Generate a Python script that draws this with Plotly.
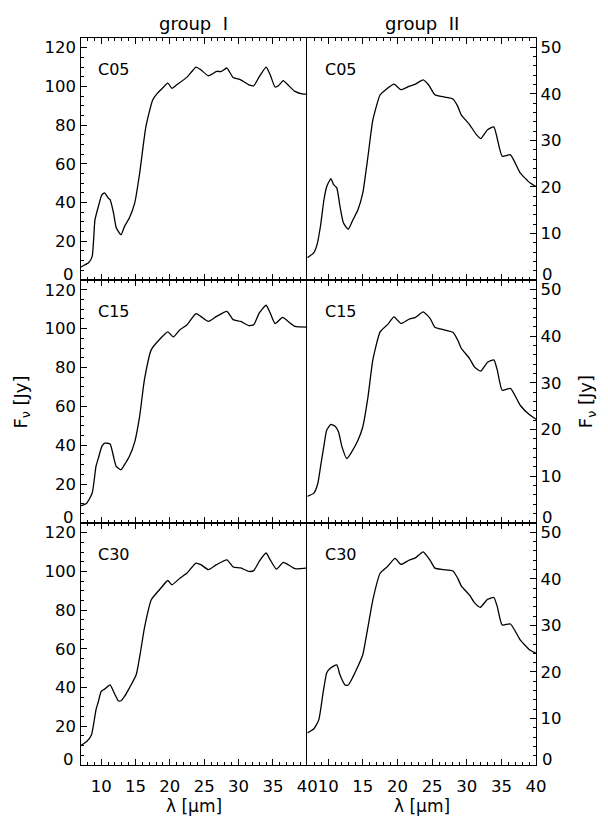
import plotly.graph_objects as go

# ---- spectra: wavelength [micron] and flux density [Jy] ----
# group I (left column)
lam_g1_c05 = [7.0, 8.2, 8.7, 9.1, 9.6, 10.1, 10.5, 11.0, 11.3, 11.8, 12.2, 12.9, 13.4, 14.1, 14.9,
              15.6, 16.5, 17.5, 18.2, 18.9, 19.7, 20.3, 21.0, 22.5, 23.2, 23.8, 24.5, 25.6, 26.8,
              27.5, 28.3, 29.2, 30.3, 31.5, 32.2, 33.0, 34.0, 34.6, 35.3, 35.8, 36.5, 37.2, 38.2,
              39.4, 40.0]
flux_g1_c05 = [6.6, 9.0, 12.2, 31.0, 38.0, 44.0, 45.0, 42.5, 41.5, 34.7, 27.0, 23.4, 27.7, 32.0, 40.0,
               55.0, 79.0, 93.0, 96.5, 99.0, 101.7, 99.0, 100.8, 104.8, 107.7, 110.0, 108.6, 105.5, 107.7,
               107.7, 109.5, 104.6, 103.4, 100.8, 100.3, 105.0, 110.0, 106.0, 99.7, 100.3, 103.0, 100.7, 97.4,
               96.0, 96.0]

lam_g1_c15 = [7.0, 7.9, 8.7, 9.25, 9.6, 10.1, 10.5, 11.3, 11.8, 12.2, 12.9, 13.4, 14.1, 14.9, 15.6,
              16.3, 17.3, 18.7, 19.7, 20.5, 21.5, 22.5, 23.8, 24.5, 25.6, 26.8, 28.3, 29.2, 30.3,
              31.5, 32.2, 33.0, 34.0, 34.6, 35.3, 36.4, 37.2, 38.2, 40.0]
flux_g1_c15 = [8.8, 10.2, 15.4, 29.1, 33.4, 39.4, 41.1, 40.6, 34.2, 29.1, 27.4, 30.0, 34.2, 41.9, 54.8,
               73.7, 89.2, 95.2, 98.3, 95.7, 99.5, 102.0, 107.7, 106.3, 103.7, 106.3, 108.9, 104.6, 103.7,
               101.5, 102.0, 108.0, 112.0, 108.0, 102.6, 105.8, 103.7, 101.1, 100.8]

lam_g1_c30 = [7.0, 7.9, 8.6, 9.25, 9.6, 10.0, 10.5, 11.3, 11.8, 12.5, 12.9, 13.4, 14.1, 15.1, 15.7,
              16.3, 17.3, 18.7, 19.7, 20.3, 21.5, 22.5, 23.8, 24.5, 25.6, 26.8, 28.3, 29.2, 30.3,
              31.5, 32.2, 33.0, 34.0, 34.6, 35.5, 36.5, 37.2, 38.2, 40.0]
flux_g1_c30 = [9.9, 12.1, 15.6, 28.5, 32.8, 38.0, 39.2, 41.4, 38.0, 33.2, 33.2, 35.4, 39.7, 46.6, 57.8,
               70.8, 85.4, 91.4, 95.3, 93.1, 96.6, 99.2, 104.3, 103.5, 100.9, 103.5, 106.0, 102.3, 101.8,
               100.0, 100.4, 105.2, 109.5, 106.0, 101.2, 104.7, 103.5, 101.4, 101.8]

# group II (right column)
lam_g2_c05 = [7.0, 7.95, 8.4, 8.9, 9.4, 9.8, 10.3, 10.4, 10.8, 11.25, 11.7, 12.2, 12.9, 13.6, 14.3,
              15.0, 15.75, 16.45, 17.5, 18.3, 19.5, 20.5, 21.65, 22.6, 23.7, 24.5, 25.4, 26.8, 28.0,
              28.7, 29.2, 30.4, 31.3, 32.0, 33.0, 33.9, 35.1, 36.3, 37.7, 39.1, 40.0]
flux_g2_c05 = [4.8, 5.9, 7.6, 11.6, 17.3, 20.1, 21.6, 21.8, 20.5, 19.8, 15.9, 12.3, 10.9, 13.0, 15.1,
               18.7, 26.6, 34.4, 39.8, 40.9, 42.1, 40.9, 41.6, 42.1, 43.0, 41.9, 39.8, 39.3, 38.9,
               37.3, 35.5, 33.4, 31.4, 30.4, 32.3, 32.9, 26.6, 26.9, 23.0, 20.9, 20.1]

lam_g2_c15 = [7.0, 7.95, 8.5, 8.9, 9.4, 9.8, 10.4, 11.0, 11.5, 12.0, 12.7, 13.4, 14.3, 15.0, 15.75,
              16.45, 17.5, 18.6, 19.5, 20.5, 21.65, 22.6, 23.7, 24.7, 25.4, 26.6, 28.0, 28.7, 29.2,
              30.4, 31.1, 32.0, 33.0, 33.9, 34.4, 35.1, 36.3, 37.7, 39.1, 40.0]
flux_g2_c15 = [5.7, 6.4, 8.4, 12.0, 16.6, 19.9, 21.1, 20.7, 19.5, 16.3, 13.8, 15.2, 17.7, 20.6, 27.0,
               34.9, 40.9, 42.5, 44.1, 42.7, 43.6, 44.0, 45.2, 43.8, 41.9, 41.4, 40.8, 39.1, 37.4,
               35.2, 33.4, 32.5, 34.4, 34.9, 32.7, 28.4, 28.8, 25.2, 23.1, 22.2]

lam_g2_c30 = [7.0, 7.95, 8.65, 9.3, 9.8, 10.3, 11.25, 11.7, 12.45, 12.9, 13.6, 14.3, 15.0, 15.75, 16.45,
              17.5, 18.6, 19.65, 20.5, 21.65, 22.6, 23.7, 24.7, 25.4, 26.6, 28.0, 28.7, 29.2, 30.4,
              31.1, 31.95, 33.0, 33.9, 34.4, 35.1, 36.3, 37.7, 39.1, 40.0]
flux_g2_c30 = [6.9, 7.8, 9.7, 15.8, 19.8, 20.8, 21.5, 19.4, 17.2, 17.2, 19.0, 21.2, 23.7, 29.7, 35.5,
               41.2, 42.7, 44.4, 43.1, 44.0, 44.5, 45.8, 44.0, 42.3, 42.0, 41.7, 40.1, 38.5, 36.5,
               34.9, 33.9, 35.6, 36.0, 34.0, 30.1, 30.3, 26.9, 24.7, 24.0]

model_names = ["C05", "C15", "C30"]
group_titles = ["group\u00a0\u00a0I", "group\u00a0\u00a0II"]
x_ticks = [10, 15, 20, 25, 30, 35, 40]
y_ticks_g1 = [0, 20, 40, 60, 80, 100, 120]
y_ticks_g2 = [0, 10, 20, 30, 40, 50]

spectra = [
    [(lam_g1_c05, flux_g1_c05), (lam_g2_c05, flux_g2_c05)],
    [(lam_g1_c15, flux_g1_c15), (lam_g2_c15, flux_g2_c15)],
    [(lam_g1_c30, flux_g1_c30), (lam_g2_c30, flux_g2_c30)],
]

W, H = 608, 816
FONT = "DejaVu Sans"
TICK_SIZE = 16.5

# panel layout in pixels
col_px = [(82, 313), (313, 546)]
row_px = [(38, 280), (280, 523), (523, 765)]

fig = go.Figure()
layout = dict(
    width=W, height=H, margin=dict(l=0, r=0, t=0, b=0),
    paper_bgcolor="white", plot_bgcolor="white", showlegend=False,
    font=dict(family=FONT, size=16, color="black"),
)
annotations = []

for r in range(3):
    for c in range(2):
        k = r * 2 + c + 1
        xa = "xaxis" if k == 1 else f"xaxis{k}"
        ya = "yaxis" if k == 1 else f"yaxis{k}"
        xref = "x" if k == 1 else f"x{k}"
        yref = "y" if k == 1 else f"y{k}"
        lam, flux = spectra[r][c]
        fig.add_trace(go.Scatter(
            x=lam, y=flux, mode="lines", xaxis=xref, yaxis=yref,
            line=dict(color="black", width=1.3, shape="spline", smoothing=0.5),
            hoverinfo="skip",
        ))
        x0, x1 = col_px[c]
        y0, y1 = row_px[r]
        layout[xa] = dict(
            domain=[x0 / W, x1 / W], anchor=yref, range=[7, 40],
            tickmode="array", tickvals=x_ticks, ticktext=[str(v) for v in x_ticks],
            showticklabels=(r == 2), ticks="inside", ticklen=6, tickwidth=1,
            tickcolor="black", mirror="allticks", showline=True, linecolor="black",
            linewidth=1.1, showgrid=False, zeroline=False, ticklabelstandoff=6,
            minor=dict(ticks="inside", dtick=1, tick0=0, ticklen=3, tickcolor="black", showgrid=False),
            tickfont=dict(family=FONT, size=TICK_SIZE, color="black"),
        )
        if c == 0:
            yt = y_ticks_g1
            yrange = [0, 125]
            ydt_minor = 5
        else:
            yt = y_ticks_g2
            yrange = [0, 52]
            ydt_minor = 2
        # the shared border between columns is drawn once, by the right panel
        # the zero label is drawn separately, nudged up from the panel edge
        layout[ya] = dict(
            domain=[1 - y1 / H, 1 - y0 / H], anchor=xref, range=yrange,
            side="left" if c == 0 else "right",
            tickmode="array", tickvals=yt[1:], ticktext=[str(v) for v in yt[1:]],
            ticks="inside", ticklen=6, tickwidth=1, tickcolor="black",
            mirror=(c == 1), showline=True, linecolor="black", linewidth=1.3,
            showgrid=False, zeroline=False,
            minor=dict(ticks="inside", dtick=ydt_minor, tick0=0, ticklen=3, tickcolor="black", showgrid=False),
            tickfont=dict(family=FONT, size=TICK_SIZE, color="black"),
        )
        annotations.append(dict(
            text="0", xref="paper", yref=yref, y=0, yshift=6,
            x=(x0 - 5) / W if c == 0 else (x1 + 4) / W,
            xanchor="right" if c == 0 else "left", yanchor="middle",
            showarrow=False, font=dict(family=FONT, size=TICK_SIZE, color="black"),
        ))
        # model label inside each panel
        annotations.append(dict(
            text=model_names[r], xref=f"{xref} domain", yref=f"{yref} domain",
            x=0.068, y=0.87, xanchor="left", yanchor="middle", showarrow=False,
            font=dict(family=FONT, size=16, color="black"),
        ))

# column headings and wavelength titles
for c in range(2):
    x0, x1 = col_px[c]
    annotations.append(dict(
        text=group_titles[c], xref="paper", yref="paper",
        x=(x0 + x1) / 2 / W, y=1 - 23 / H, xanchor="center", yanchor="middle",
        showarrow=False, font=dict(family=FONT, size=18, color="black"),
    ))
    annotations.append(dict(
        text="λ [μm]", xref="paper", yref="paper",
        x=(x0 + x1) / 2 / W, y=1 - 806 / H, xanchor="center", yanchor="middle",
        showarrow=False, font=dict(family=FONT, size=17, color="black"),
    ))

# flux axis titles on both sides
for xp in (22, 598):
    annotations.append(dict(
        text="F<sub>ν</sub> [Jy]", xref="paper", yref="paper",
        x=xp / W, y=1 - 402 / H, xanchor="center", yanchor="middle",
        textangle=-90, showarrow=False, font=dict(family=FONT, size=18, color="black"),
    ))

layout["annotations"] = annotations
fig.update_layout(**layout)
fig.write_html("out.html")
